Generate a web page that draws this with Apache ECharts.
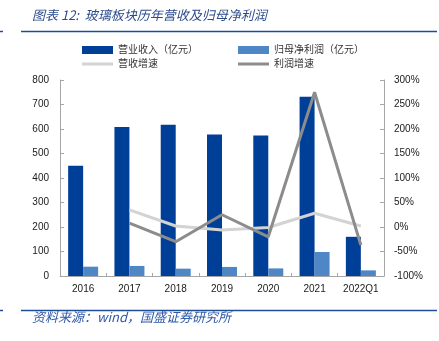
<!DOCTYPE html>
<html><head><meta charset="utf-8">
<script src="https://cdn.jsdelivr.net/npm/echarts@6/dist/echarts.min.js"></script>
<style>html,body{margin:0;padding:0;background:#fff}#c{width:439px;height:341px}</style>
</head><body><div id="c"></div>
<script>
var categories = ['2016','2017','2018','2019','2020','2021','2022Q1'];
var revenue = [450, 608, 617, 578, 573, 732, 160];
var netProfit = [38, 41, 30, 37, 31, 98, 23];
var revenueGrowth = [null, 35, 2, -6, -1, 28, 2];
var profitGrowth = [null, 8, -30, 25, -20, 275, -37];
var leftTicks = {min: 0, max: 800, interval: 100};
var rightTicks = {min: -100, max: 300, interval: 50};
var names = ['营业收入（亿元）','归母净利润（亿元）','营收增速','利润增速'];

var FONT = '"Liberation Sans","Noto Sans CJK SC",sans-serif';
var chart = echarts.init(document.getElementById('c'), null, {renderer:'canvas'});
var axisLine = {show:true, lineStyle:{color:'#a6a6a6', width:1}};
var labelStyle = {color:'#1a1a1a', fontSize:10, fontFamily:FONT};
var legendText = {color:'#333', fontSize:10, fontFamily:FONT};
function lg(name, left, top, h){
  return {data:[name], left:left, top:top, itemWidth:31, itemHeight:h, itemGap:0, itemTextGap:5,
    icon:'rect', textStyle:legendText, selectedMode:false, padding:0};
}
chart.setOption({
  animation:false,
  backgroundColor:'#fff',
  textStyle:{fontFamily:FONT},
  legend:[lg(names[0],82,45,8), lg(names[1],238,45,8), lg(names[2],82,59,3), lg(names[3],238,59,3)],
  grid:{left:60, right:55, top:80, bottom:65, containLabel:false},
  xAxis:{type:'category', data:categories, axisLine:axisLine,
    axisTick:{show:true, inside:true, length:3, lineStyle:{color:'#a6a6a6'}},
    axisLabel:Object.assign({margin:8}, labelStyle)},
  yAxis:[
    {type:'value', min:leftTicks.min, max:leftTicks.max, interval:leftTicks.interval, position:'left',
     axisLine:axisLine, axisTick:{show:true, inside:true, length:4, lineStyle:{color:'#a6a6a6'}},
     splitLine:{show:false}, axisLabel:Object.assign({margin:11}, labelStyle)},
    {type:'value', min:rightTicks.min, max:rightTicks.max, interval:rightTicks.interval, position:'right',
     axisLine:axisLine, axisTick:{show:true, inside:true, length:4, lineStyle:{color:'#a6a6a6'}},
     splitLine:{show:false}, axisLabel:Object.assign({margin:10, formatter:'{value}%'}, labelStyle)}
  ],
  series:[
    {name:names[0], type:'bar', data:revenue, barWidth:15, barGap:'0%', itemStyle:{color:'#003f98'}},
    {name:names[1], type:'bar', data:netProfit, barWidth:15, barGap:'0%', itemStyle:{color:'#4f86c6'}},
    {name:names[2], type:'line', yAxisIndex:1, data:revenueGrowth, showSymbol:false, symbol:'none',
     lineStyle:{color:'#d3d3d3', width:3}, itemStyle:{color:'#d3d3d3'}},
    {name:names[3], type:'line', yAxisIndex:1, data:profitGrowth, showSymbol:false, symbol:'none',
     lineStyle:{color:'#8c8c8c', width:3}, itemStyle:{color:'#8c8c8c'}}
  ],
  graphic:[
    {type:'text', left:32, top:9, style:{text:'图表 12:  玻璃板块历年营收及归母净利润', fill:'#2b4c8c',
      font:'italic 13px "Noto Sans CJK SC","Liberation Sans",sans-serif'}},
    {type:'line', shape:{x1:21, y1:31.5, x2:437, y2:31.5}, style:{stroke:'#1f4e99', lineWidth:1.5}},
    {type:'line', shape:{x1:0, y1:31.5, x2:3, y2:31.5}, style:{stroke:'#1f4e99', lineWidth:1.5}},
    {type:'line', shape:{x1:21, y1:310.5, x2:437, y2:310.5}, style:{stroke:'#1f4e99', lineWidth:1.5}},
    {type:'line', shape:{x1:0, y1:310.5, x2:3, y2:310.5}, style:{stroke:'#1f4e99', lineWidth:1.5}},
    {type:'text', left:32, top:311, style:{text:'资料来源：wind，国盛证券研究所', fill:'#2f5aa8',
      font:'italic 13px "Noto Sans CJK SC","Liberation Sans",sans-serif'}}
  ]
});
</script></body></html>
